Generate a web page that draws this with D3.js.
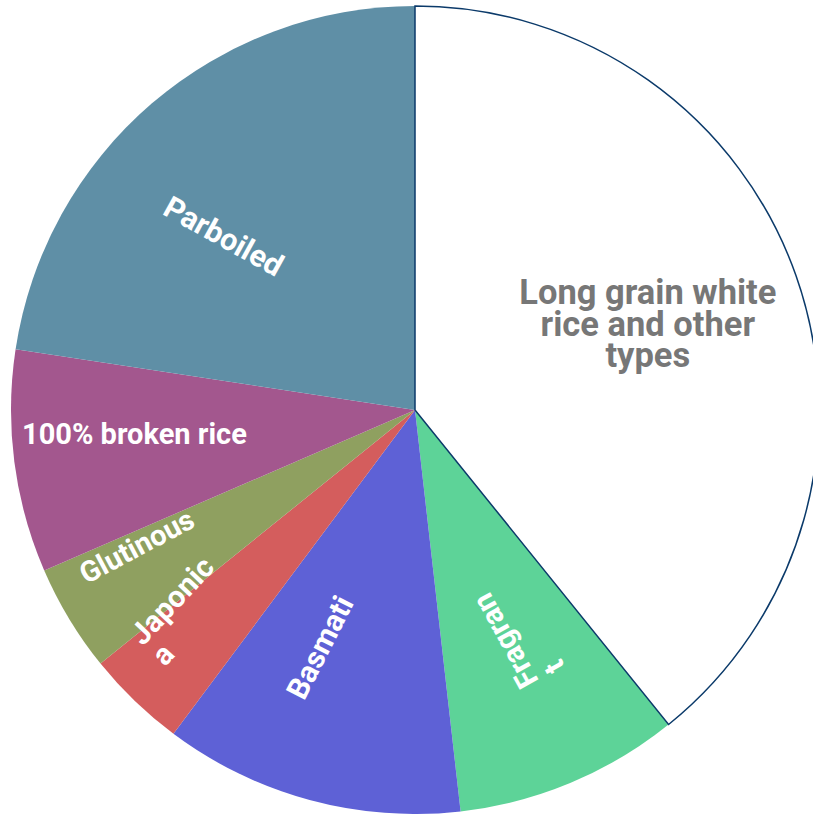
<!DOCTYPE html>
<html>
<head>
<meta charset="utf-8">
<script src="https://cdn.jsdelivr.net/npm/d3@7"></script>
<style>
  html, body { margin: 0; padding: 0; background: #fff; }
  svg { display: block; }
  text { font-family: Roboto, "Noto Sans", sans-serif; font-weight: 700; }
</style>
</head>
<body>
<div id="container"></div>
<script>
/* DATA */
const categories = ["Long grain white rice and other types", "Fragrant", "Basmati", "Japonica", "Glutinous", "100% broken rice", "Parboiled"];
const shares = [39.2, 9.0, 12.0, 4.0, 4.3, 8.9, 22.6];
const labelLines = [
  ["Long grain white", "rice and other", "types"],
  ["Fragran", "t"],
  ["Basmati"],
  ["Japonic", "a"],
  ["Glutinous"],
  ["100% broken rice"],
  ["Parboiled"]
];

/* CONSTANTS AND GLOBALS */
const width = 813;
const height = 814;
const cx = 415, cy = 410, radius = 404;
const colors = ["#ffffff", "#5dd398", "#5e61d6", "#d45d5d", "#8fa060", "#a3578e", "#5f8fa6"];
const textColors = ["#777777", "#fff", "#fff", "#fff", "#fff", "#fff", "#fff"];

// label placement: angle shift from slice middle (deg), radius fraction, rotation, alignment, font size
const labelLayout = [
  {shift: -1, k: 0.615, rot: 0, align: "middle", size: 34.5, lh: 31.5},
  {shift: -2, k: 0.61, rot: 241, align: "start", size: 30, lh: 30},
  {shift: 6.8, k: 0.633, rot: -63, align: "middle", size: 30, lh: 30},
  {shift: 5.3, k: 0.76, rot: -47, align: "start", size: 30, lh: 30},
  {shift: 5.1, k: 0.767, rot: -28, align: "middle", size: 29, lh: 30},
  {shift: 2.5, k: 0.697, rot: 0, align: "middle", size: 29, lh: 30},
  {shift: -7, k: 0.64, rot: 29, align: "middle", size: 30.5, lh: 30}
];

const data = categories.map((c, i) => ({name: c, value: shares[i], i: i}));

const pie = d3.pie().sort(null).value(d => d.value);
const arc = d3.arc().innerRadius(0).outerRadius(radius);
const arcs = pie(data);

const svg = d3.select("#container")
  .append("svg")
  .attr("width", width)
  .attr("height", height);

const g = svg.append("g").attr("transform", `translate(${cx}, ${cy})`);

// coloured slices first, the white one last so its outline sits on top
const order = arcs.slice(1).concat(arcs.slice(0, 1));
g.selectAll("path")
  .data(order)
  .join("path")
  .attr("d", arc)
  .attr("fill", d => colors[d.data.i])
  .attr("stroke", d => d.data.i === 0 ? "#0b3a6a" : "none")
  .attr("stroke-width", 1.5)
  .attr("stroke-linejoin", "miter");

/* LABELS */
arcs.forEach(d => {
  const L = labelLayout[d.data.i];
  const a = (d.startAngle + d.endAngle) / 2 + L.shift * Math.PI / 180;
  const x = Math.sin(a) * radius * L.k;
  const y = -Math.cos(a) * radius * L.k;
  const lines = labelLines[d.data.i];

  const lg = g.append("g")
    .attr("transform", `translate(${x}, ${y}) rotate(${L.rot})`);

  const t = lg.append("text")
    .style("font-size", L.size + "px")
    .attr("fill", textColors[d.data.i])
    .attr("text-anchor", L.align);

  const spans = lines.map((ln, j) => t.append("tspan")
    .attr("x", 0)
    .attr("y", (j - (lines.length - 1) / 2) * L.lh)
    .attr("dy", "0.36em")
    .text(ln));

  if (L.align === "start") {
    const w = spans[0].node().getComputedTextLength();
    spans.forEach(s => s.attr("x", -w / 2));
  }
});
</script>
</body>
</html>
